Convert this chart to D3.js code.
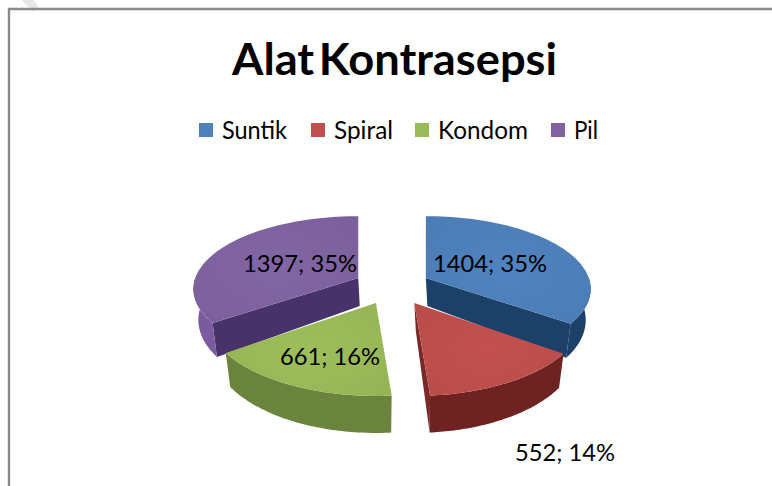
<!DOCTYPE html>
<html><head><meta charset="utf-8">
<script src="https://cdn.jsdelivr.net/npm/d3@7/dist/d3.min.js"></script>
<style>html,body{margin:0;padding:0;background:#fff}svg{display:block}text{font-family:Lato,"Open Sans",sans-serif;fill:#000}</style>
</head><body><svg id="c" width="772" height="486"></svg>
<script>
const categories=["Suntik","Spiral","Kondom","Pil"];
const values=[1404,552,661,1397];
const percents=["35%","14%","16%","35%"];
const topColors=["#4f81bd","#c0504d","#9bbb59","#8064a2"];
const outerColors=["#1f3f68","#6e2422","#6a843c","#7a5c9e"];
const innerColors=["#1f3f68","#7a2a28","#6a843c","#47326a"];
const explodeX=[1,1.2,1,1];
const legendX=[199,311,415,551];
const legendTextX=[222,334,438,574];
const legendTextW=[65,59,90,24];
const labelPos=[[433,272,114],[515,461,100],[280,365,100],[243,272,114]];

const W=772,H=486;
const svg=d3.select("#c");
const defs=svg.append("defs");
defs.append("filter").attr("id","soft").append("feGaussianBlur").attr("stdDeviation",0.6);
categories.forEach((c,i)=>{
  const g=defs.append("radialGradient").attr("id","top"+i).attr("cx","50%").attr("cy","50%").attr("r","70%");
  g.append("stop").attr("offset","0%").attr("stop-color",d3.color(topColors[i]).brighter(0.05));
  g.append("stop").attr("offset","100%").attr("stop-color",d3.color(topColors[i]).darker(0.12));
});
// watermark fragment and frame
svg.append("path").attr("d",d3.line()([[25,-2],[36,9]])).attr("fill","none").attr("stroke","#e6e6e6").attr("stroke-width",8);
svg.append("path").attr("d",d3.line()([[W,9],[9,9],[9,H]])).attr("fill","none").attr("stroke","#8a8a8a").attr("stroke-width",2.4);
// title
svg.append("text").attr("x",232).attr("y",75).attr("font-size",43).attr("font-weight",700).attr("word-spacing",-6)
  .attr("textLength",325).attr("lengthAdjust","spacingAndGlyphs").text("Alat Kontrasepsi");
// legend
categories.forEach((c,i)=>{
  svg.append("rect").attr("x",legendX[i]).attr("y",123).attr("width",14).attr("height",14).attr("fill",topColors[i]);
  svg.append("text").attr("x",legendTextX[i]).attr("y",139).attr("font-size",25)
    .attr("textLength",legendTextW[i]).attr("lengthAdjust","spacingAndGlyphs").text(c);
});
// pie geometry from d3.pie
const arcs=d3.pie().sort(null).value(d=>d)(values);
const cx=392,cy=290.5,rx=168,ry=79,p=0.15,ex=38,ey=12.5,shrink=0.97;
const proj=(a,apex,back,bottom)=>{
  const u=Math.sin(a),v=-Math.cos(a),s=1/(1-p*v);
  const k=bottom?shrink:1;
  const bx=back?0.97:1,by=back?0.9:1;
  return [apex[0]+u*rx*s*k*bx, apex[1]+v*ry*s*by+(bottom?30+7*v:0)];
};
const line=d3.line();
const pie=svg.append("g").attr("filter","url(#soft)");
const sample=(a0,a1)=>d3.range(0,61).map(j=>a0+(a1-a0)*j/60);
const slices=arcs.map((d,i)=>{
  const mid=(d.startAngle+d.endAngle)/2;
  const back=Math.cos(mid)>0;
  const apex=[cx+ex*explodeX[i]*Math.sin(mid),cy-ey*Math.sign(Math.cos(mid))];
  return {d,i,apex,back};
});
// painter's order: back slices first
[3,0,2,1].forEach(i=>{
  const {d,apex,back}=slices[i];
  const g=pie.append("g");
  const wall=(a)=>{
    const topA=proj(a,apex,back,false),botA=proj(a,apex,back,true);
    const botC=[apex[0]+1.5,apex[1]+28];
    g.append("path").attr("d",line([apex,topA,botA,botC])+"Z").attr("fill",innerColors[i]);
  };
  if(i===0) wall(d.endAngle);
  if(i===1) wall(d.endAngle);
  if(i===3) wall(d.startAngle);
  // outer front wall
  const lo=Math.max(d.startAngle,Math.PI/2),hi=Math.min(d.endAngle,Math.PI*1.5);
  if(hi>lo){
    const as=sample(lo,hi);
    const pts=as.map(a=>proj(a,apex,back,false)).concat(as.slice().reverse().map(a=>proj(a,apex,back,true)));
    g.append("path").attr("d",line(pts)+"Z").attr("fill",outerColors[i]);
  }
  const pts=[apex].concat(sample(d.startAngle,d.endAngle).map(a=>proj(a,apex,back,false)));
  g.append("path").attr("d",line(pts)+"Z").attr("fill","url(#top"+i+")");
});
// data labels
categories.forEach((c,i)=>{
  const [x,y,w]=labelPos[i];
  svg.append("text").attr("x",x).attr("y",y).attr("font-size",24)
    .attr("textLength",w).attr("lengthAdjust","spacingAndGlyphs").text(values[i]+"; "+percents[i]);
});
</script></body></html>
